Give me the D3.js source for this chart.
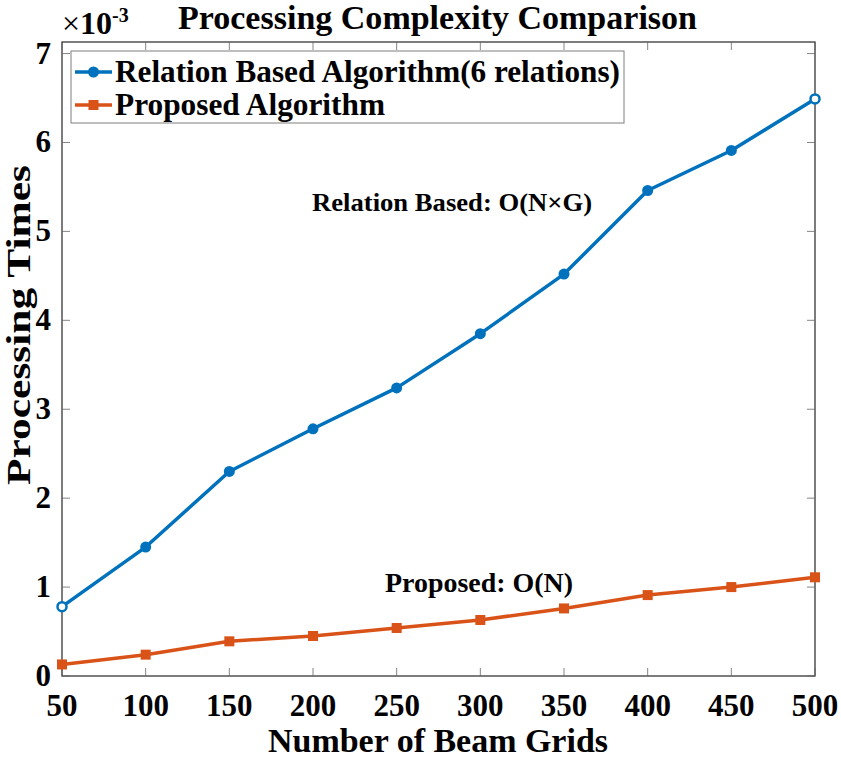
<!DOCTYPE html>
<html><head><meta charset="utf-8">
<script src="https://cdn.jsdelivr.net/npm/d3@7"></script>
<style>body{margin:0;background:#fff;} text{font-family:"Liberation Serif","Times New Roman",serif;font-weight:bold;fill:#000;}</style>
</head><body>
<svg id="c" width="841" height="761"></svg>
<script>
const beamGrids = [50,100,150,200,250,300,350,400,450,500];
const relationBased = [0.78,1.45,2.30,2.78,3.24,3.85,4.52,5.46,5.91,6.49];
const proposed = [0.13,0.24,0.39,0.45,0.54,0.63,0.76,0.91,1.00,1.11];
const xTicks = [50,100,150,200,250,300,350,400,450,500];
const yTicks = [0,1,2,3,4,5,6,7];
const seriesNames = ["Relation Based Algorithm(6 relations)","Proposed Algorithm"];
const colors = ["#0072BD","#D95319"];

const svg = d3.select("#c");
const L=62,R=815,T=42,B=676;
const x = d3.scaleLinear().domain([50,500]).range([L,R]);
const y = d3.scaleLinear().domain([0,7.13]).range([B,T]);

function txt(px,py,s,size,anchor,len){
  const t=svg.append("text").attr("x",px).attr("y",py).attr("font-size",size).attr("text-anchor",anchor||"start").text(s);
  if(len) t.attr("textLength",len).attr("lengthAdjust","spacingAndGlyphs");
  return t;
}

// frame
svg.append("rect").attr("x",L).attr("y",T).attr("width",R-L).attr("height",B-T)
  .attr("fill","none").attr("stroke","#262626").attr("stroke-width",1.2);
const tk=8;
xTicks.forEach(v=>{
  svg.append("line").attr("x1",x(v)).attr("x2",x(v)).attr("y1",B).attr("y2",B-tk).attr("stroke","#666").attr("stroke-width",0.8);
  svg.append("line").attr("x1",x(v)).attr("x2",x(v)).attr("y1",T).attr("y2",T+tk).attr("stroke","#666").attr("stroke-width",0.8);
  txt(x(v),716,v,31,"middle");
});
yTicks.forEach(v=>{
  svg.append("line").attr("x1",L).attr("x2",L+tk).attr("y1",y(v)).attr("y2",y(v)).attr("stroke","#666").attr("stroke-width",0.8);
  svg.append("line").attr("x1",R).attr("x2",R-tk).attr("y1",y(v)).attr("y2",y(v)).attr("stroke","#666").attr("stroke-width",0.8);
  txt(51,y(v)+10,v,31,"end");
});
// exponent
const ex = svg.append("text").attr("x",62).attr("y",34).attr("font-size",32);
ex.append("tspan").attr("font-weight","normal").text("×");
ex.append("tspan").text("10");
ex.append("tspan").attr("dy",-12).attr("font-size",20).text("-3");

// title & labels
txt(437.5,29,"Processing Complexity Comparison",33,"middle",519);
txt(438,752,"Number of Beam Grids",34,"middle",340);
svg.append("text").attr("transform","translate(30,325) rotate(-90)").attr("text-anchor","middle").attr("font-size",34)
  .attr("textLength",320).attr("lengthAdjust","spacingAndGlyphs").text("Processing Times");

// lines
const line = d3.line().x((d,i)=>x(beamGrids[i])).y(d=>y(d));
[relationBased,proposed].forEach((s,k)=>{
  svg.append("path").datum(s).attr("d",line).attr("fill","none").attr("stroke",colors[k]).attr("stroke-width",3.5).attr("stroke-linejoin","round");
});
const last=beamGrids.length-1;
svg.selectAll(".m1").data(relationBased).enter().append("circle")
  .attr("cx",(d,i)=>x(beamGrids[i])).attr("cy",d=>y(d)).attr("r",(d,i)=>(i==0||i==last)?4.5:5.5)
  .attr("fill",(d,i)=>(i==0||i==last)?"#fff":colors[0])
  .attr("stroke",colors[0]).attr("stroke-width",(d,i)=>(i==0||i==last)?2.5:0);
svg.selectAll(".m2").data(proposed).enter().append("rect")
  .attr("x",(d,i)=>x(beamGrids[i])-5).attr("y",d=>y(d)-5).attr("width",10).attr("height",10)
  .attr("fill",colors[1]);

// annotations
txt(312,211,"Relation Based: O(N×G)",26,"start",280);
txt(385,592,"Proposed: O(N)",27,"start",188);

// legend
svg.append("rect").attr("x",71).attr("y",51).attr("width",553).attr("height",72).attr("fill","#fff").attr("stroke","#7f7f7f").attr("stroke-width",1);
const ly=[72,105];
seriesNames.forEach((n,k)=>{
  svg.append("line").attr("x1",75).attr("x2",112).attr("y1",ly[k]).attr("y2",ly[k]).attr("stroke",colors[k]).attr("stroke-width",3.5);
  if(k==0) svg.append("circle").attr("cx",93.5).attr("cy",ly[k]).attr("r",5.5).attr("fill",colors[k]);
  else svg.append("rect").attr("x",88.5).attr("y",ly[k]-5).attr("width",10).attr("height",10).attr("fill",colors[k]);
  txt(115,ly[k]+10,n,31,"start",k==0?505:270);
});
</script>
</body></html>
